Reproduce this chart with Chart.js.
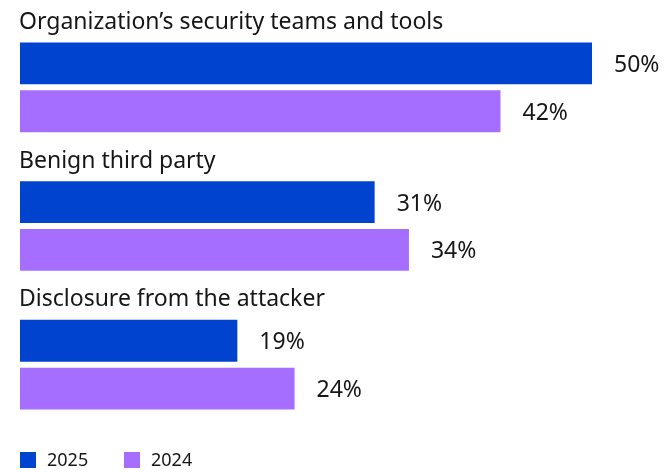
<!DOCTYPE html>
<html>
<head>
<meta charset="utf-8">
<script src="https://cdn.jsdelivr.net/npm/chart.js@4"></script>
<style>
  html, body { margin: 0; padding: 0; background: #fff; }
  #wrap { width: 666px; height: 472px; }
</style>
</head>
<body>
<div id="wrap"><canvas id="detectionChart" width="666" height="472"></canvas></div>
<script>
const categories = ['Organization\u2019s security teams and tools', 'Benign third party', 'Disclosure from the attacker'];
const seriesNames = ['2025', '2024'];
const values2025 = [50, 31, 19];
const values2024 = [42, 34, 24];
const seriesColors = ['#0043ce', '#a56eff'];

const FONT = '"Noto Sans", sans-serif';
const TEXT = '#161616';

// labels above each group, % after each bar, legend at the bottom
const labelsPlugin = {
    id: 'labels',
    afterDatasetsDraw(chart) {
        const c = chart.ctx;
        c.save();
        c.fillStyle = TEXT;
        c.textBaseline = 'middle';
        c.textAlign = 'left';
        c.font = '23px ' + FONT;
        const first = chart.getDatasetMeta(0).data;
        categories.forEach((name, i) => {
            const bar = first[i];
            c.fillText(name, chart.chartArea.left - 1, bar.y - bar.height / 2 - 20);
        });
        chart.data.datasets.forEach((ds, d) => {
            chart.getDatasetMeta(d).data.forEach((bar, i) => {
                c.fillText(ds.data[i] + '%', bar.x + 22, bar.y + 2);
            });
        });
        // legend
        c.font = '18px ' + FONT;
        let x = chart.chartArea.left;
        chart.data.datasets.forEach((ds) => {
            c.fillStyle = ds.backgroundColor;
            c.fillRect(x, 452, 16, 16);
            c.fillStyle = TEXT;
            c.fillText(ds.label, x + 27, 461);
            x += 104;
        });
        c.restore();
    }
};

new Chart(document.getElementById('detectionChart').getContext('2d'), {
    type: 'bar',
    data: {
        labels: categories,
        datasets: [{
            label: seriesNames[0],
            data: values2025,
            backgroundColor: seriesColors[0],
            categoryPercentage: 0.69,
            barPercentage: 0.875
        }, {
            label: seriesNames[1],
            data: values2024,
            backgroundColor: seriesColors[1],
            categoryPercentage: 0.69,
            barPercentage: 0.875
        }]
    },
    options: {
        indexAxis: 'y',
        responsive: false,
        animation: false,
        devicePixelRatio: 1,
        layout: { padding: { left: 20, right: 74, top: 18, bottom: 38 } },
        scales: {
            x: { display: false, min: 0, max: 50 },
            y: { display: false }
        },
        plugins: {
            legend: { display: false },
            tooltip: { enabled: false }
        }
    },
    plugins: [labelsPlugin]
});
</script>
</body>
</html>
